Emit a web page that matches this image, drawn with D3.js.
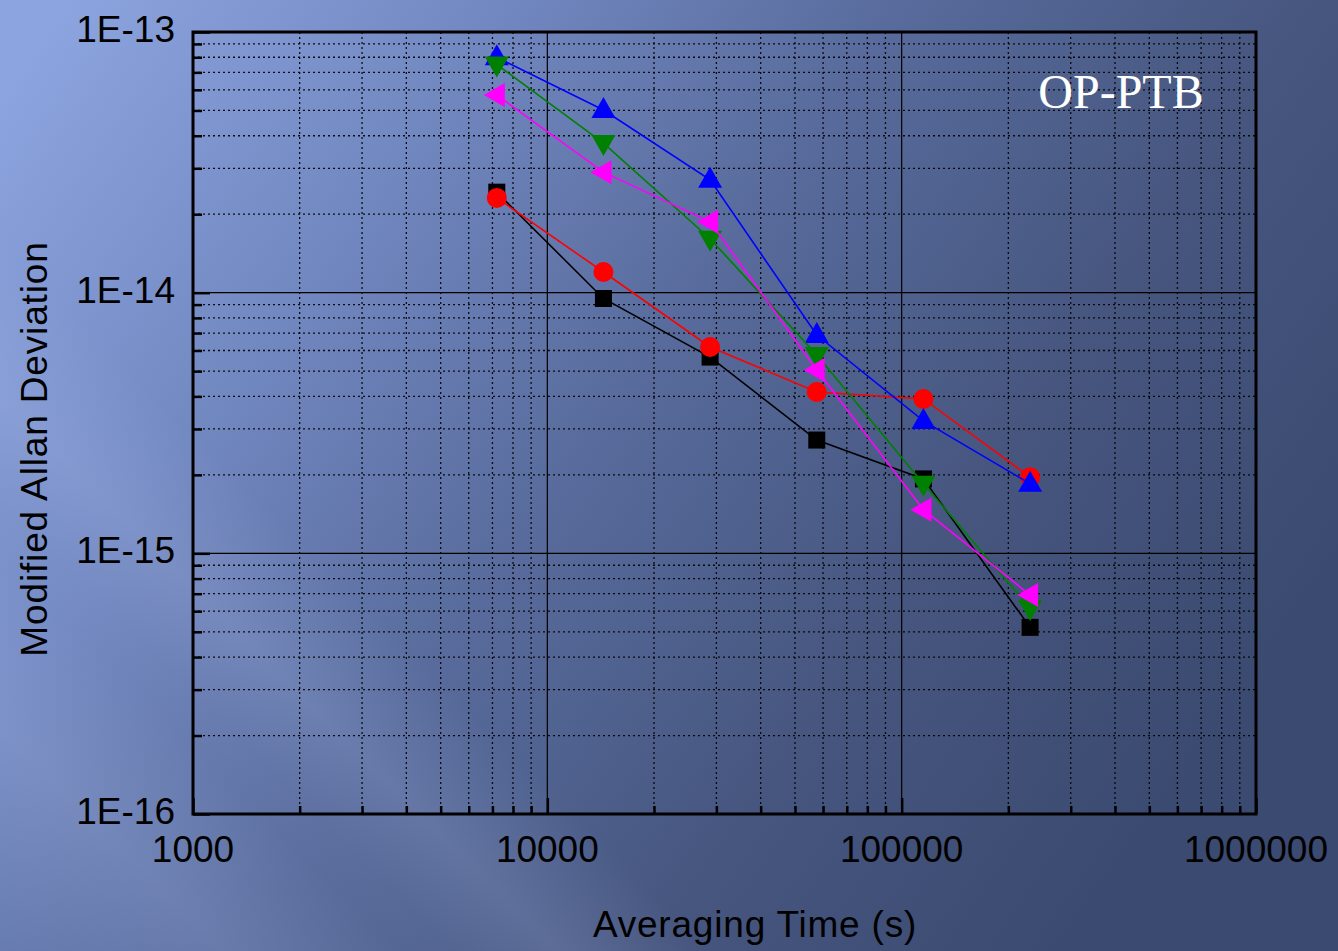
<!DOCTYPE html>
<html><head><meta charset="utf-8">
<script src="https://cdn.jsdelivr.net/npm/d3@7"></script>
<style>html,body{margin:0;padding:0;overflow:hidden;background:#4a5b88}</style>
</head><body>
<script>
const taus = [7200, 14400, 28800, 57600, 115200, 230400];
const blackSquares = [2.43e-14, 9.5e-15, 5.66e-15, 2.72e-15, 1.93e-15, 5.2e-16];
const redCircles   = [2.31e-14, 1.2e-14, 6.19e-15, 4.16e-15, 3.91e-15, 1.96e-15];
const blueUp       = [8.0e-14, 5.02e-14, 2.71e-14, 6.88e-15, 3.22e-15, 1.85e-15];
const greenDown    = [7.5e-14, 3.75e-14, 1.61e-14, 5.77e-15, 1.85e-15, 6.17e-16];
const magentaLeft  = [5.73e-14, 2.9e-14, 1.87e-14, 5.05e-15, 1.47e-15, 6.92e-16];
const xTickLabels = ["1000", "10000", "100000", "1000000"];
const yTickLabels = ["1E-16", "1E-15", "1E-14", "1E-13"];
const xTickValues = [1e3, 1e4, 1e5, 1e6];
const yTickValues = [1e-16, 1e-15, 1e-14, 1e-13];

const W = 1338, H = 951;
const L = 193, R = 1256, T = 32, B = 814;
const svg = d3.select("body").append("svg").attr("width", W).attr("height", H);
const defs = svg.append("defs");
const g1 = defs.append("linearGradient").attr("id","bg").attr("x1","0").attr("y1","0.1").attr("x2","1").attr("y2","0.6");
[["0%","#8ca4df"],["25%","#7389c2"],["50%","#586b9c"],["75%","#46567f"],["100%","#3b4a70"]].forEach(s=>g1.append("stop").attr("offset",s[0]).attr("stop-color",s[1]));
svg.append("rect").attr("width",W).attr("height",H).attr("fill","url(#bg)");
// diagonal light streaks
const streak = defs.append("linearGradient").attr("id","streak").attr("x1","0").attr("y1","0").attr("x2","1").attr("y2","0");
[["0%",0],["50%",0.14],["100%",0]].forEach(s=>streak.append("stop").attr("offset",s[0]).attr("stop-color","#c8d6ff").attr("stop-opacity",s[1]));
const streaks = [[-250, 700, 320],[300, 850, 220]];
streaks.forEach(s=>{
  svg.append("rect").attr("x",s[0]).attr("y",-700).attr("width",s[2]).attr("height",2800)
    .attr("fill","url(#streak)").attr("transform",`rotate(-45 ${s[0]} ${s[1]})`);
});

const x = d3.scaleLog().domain([1e3,1e6]).range([L,R]);
const y = d3.scaleLog().domain([1e-16,1e-13]).range([B,T]);

// minor grid
const minorX = [], minorY = [];
for (let d=3; d<6; d++) for (let k=2; k<=9; k++) minorX.push(k*Math.pow(10,d));
for (let d=-16; d<-13; d++) for (let k=2; k<=9; k++) minorY.push(k*Math.pow(10,d));
const grid = svg.append("g");
grid.selectAll(".mx").data(minorX).join("line").attr("x1",d=>x(d)).attr("x2",d=>x(d)).attr("y1",T).attr("y2",B)
  .attr("stroke","#000").attr("stroke-width",1.3).attr("stroke-dasharray","2,3").attr("opacity",0.9);
grid.selectAll(".my").data(minorY).join("line").attr("y1",d=>y(d)).attr("y2",d=>y(d)).attr("x1",L).attr("x2",R)
  .attr("stroke","#000").attr("stroke-width",1.3).attr("stroke-dasharray","2,3").attr("opacity",0.9);
grid.selectAll(".Mx").data(xTickValues.slice(1,-1)).join("line").attr("x1",d=>x(d)).attr("x2",d=>x(d)).attr("y1",T).attr("y2",B)
  .attr("stroke","#000").attr("stroke-width",1.2);
grid.selectAll(".My").data(yTickValues.slice(1,-1)).join("line").attr("y1",d=>y(d)).attr("y2",d=>y(d)).attr("x1",L).attr("x2",R)
  .attr("stroke","#000").attr("stroke-width",1.2);

// axes with inward ticks
const xAxis = d3.axisBottom(x).tickValues(minorX.concat(xTickValues)).tickFormat("").tickSizeInner(-8).tickSizeOuter(0);
const gx = svg.append("g").attr("transform",`translate(0,${B})`).call(xAxis);
gx.selectAll(".tick line").attr("stroke","#000").attr("stroke-width",2.5)
  .filter(d=>xTickValues.includes(d)).attr("y2",-16);
gx.select(".domain").remove();
const yAxis = d3.axisLeft(y).tickValues(minorY.concat(yTickValues)).tickFormat("").tickSizeInner(-9).tickSizeOuter(0);
const gy = svg.append("g").attr("transform",`translate(${L},0)`).call(yAxis);
gy.selectAll(".tick line").attr("stroke","#000").attr("stroke-width",2.5)
  .filter(d=>yTickValues.includes(d)).attr("x2",17);
gy.select(".domain").remove();

svg.append("rect").attr("x",L).attr("y",T).attr("width",R-L).attr("height",B-T)
  .attr("fill","none").attr("stroke","#000").attr("stroke-width",3);

// tick labels
const font = "'Liberation Sans', Arial, sans-serif";
svg.selectAll(".xl").data(xTickValues).join("text").attr("x",d=>x(d)).attr("y",862)
  .attr("text-anchor","middle").attr("font-family",font).attr("font-size",37).attr("fill","#000")
  .text((d,i)=>xTickLabels[i]);
svg.selectAll(".yl").data(yTickValues).join("text").attr("x",175).attr("y",d=>y(d)+10)
  .attr("text-anchor","end").attr("font-family",font).attr("font-size",37).attr("fill","#000")
  .text((d,i)=>yTickLabels[i]);
svg.append("text").attr("x",755).attr("y",937).attr("text-anchor","middle").attr("font-family",font)
  .attr("font-size",37).attr("letter-spacing",0.8).attr("fill","#000").text("Averaging Time (s)");
svg.append("text").attr("transform","translate(47,449) rotate(-90)").attr("text-anchor","middle").attr("font-family",font)
  .attr("font-size",37).attr("letter-spacing",0.85).attr("fill","#000").text("Modified Allan Deviation");
svg.append("text").attr("x",1121).attr("y",108).attr("text-anchor","middle")
  .attr("font-family","'Liberation Serif','DejaVu Serif',serif").attr("font-size",48).attr("fill","#fff").text("OP-PTB");

// series
const series = [
  {vals: blackSquares, color:"#000000", shape:"square"},
  {vals: redCircles, color:"#ff0000", shape:"circle"},
  {vals: blueUp, color:"#0000ff", shape:"up"},
  {vals: greenDown, color:"#008000", shape:"down"},
  {vals: magentaLeft, color:"#ff00ff", shape:"left"}
];
const line = d3.line().x(d=>x(d[0])).y(d=>y(d[1]));
function shapePath(s){
  if (s==="square") return "M-8.5,-8.5H8.5V8.5H-8.5Z";
  if (s==="up") return "M0,-13L12,8L-12,8Z";
  if (s==="down") return "M0,13L12,-8L-12,-8Z";
  if (s==="left") return "M-13,0L8,-12L8,12Z";
  return null;
}
series.forEach(s=>{
  const pts = taus.map((t,i)=>[t, s.vals[i]]);
  const g = svg.append("g");
  g.append("path").attr("d",line(pts)).attr("fill","none").attr("stroke",s.color).attr("stroke-width",1.6);
  if (s.shape==="circle") {
    g.selectAll("circle").data(pts).join("circle").attr("cx",d=>x(d[0])).attr("cy",d=>y(d[1])).attr("r",10).attr("fill",s.color);
  } else {
    g.selectAll("path.m").data(pts).join("path").attr("class","m").attr("d",shapePath(s.shape))
      .attr("transform",d=>`translate(${x(d[0])},${y(d[1])})`).attr("fill",s.color);
  }
});
</script>
</body></html>
